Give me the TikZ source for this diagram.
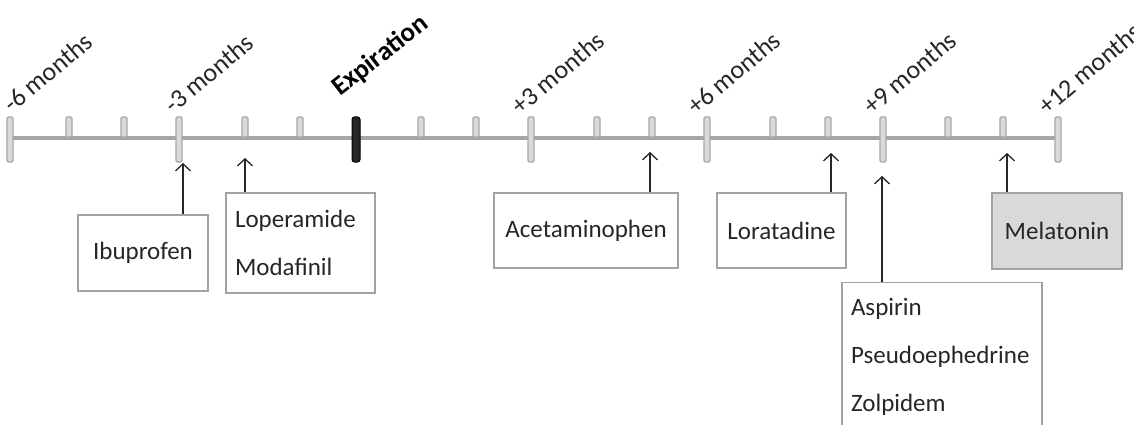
\documentclass[tikz,border=0pt]{standalone}
\usepackage{fontspec}
\setmainfont{Carlito}
\usetikzlibrary{arrows.meta}

\definecolor{axisgray}{HTML}{A6A6A6}
\definecolor{tickfill}{HTML}{DADADA}
\definecolor{tickdraw}{HTML}{A8A8A8}
\definecolor{boxdraw}{HTML}{A3A3A3}
\definecolor{boxfill}{HTML}{D9D9D9}
\definecolor{ink}{HTML}{262626}

\begin{document}
\begin{tikzpicture}[x=1pt,y=-1pt,
  minortick/.style={draw=tickdraw, fill=tickfill, line width=1.2pt, rounded corners=1.2pt,
    minimum width=6pt, minimum height=20pt, inner sep=0pt},
  majortick/.style={minortick, minimum height=45pt},
  expmark/.style={draw=black, fill=black!85, line width=1pt, rounded corners=2.5pt,
    minimum width=8pt, minimum height=45pt, inner sep=0pt},
  monthlbl/.style={font=\fontsize{26}{30}\selectfont, text=ink, rotate=40,
    anchor=base west, inner sep=0pt},
  explbl/.style={font=\fontsize{27}{30}\selectfont\bfseries, text=black, rotate=38,
    anchor=base west, inner sep=0pt},
  drugbox/.style={draw=boxdraw, line width=1.3pt, fill=white, text=ink,
    font=\fontsize{25}{48}\selectfont, inner sep=0pt},
  listbox/.style={drugbox, align=left, inner xsep=9pt},
  ptr/.style={draw=ink, line width=1.3pt, -{Straight Barb[length=7pt,width=15pt,line width=1.3pt]}}
]
\useasboundingbox (0,0) rectangle (1134,425);

% axis
\coordinate (axL) at (10,138);
\coordinate (axR) at (1058,138);
\draw[axisgray, line width=3.6pt] (axL) -- (axR);

% major ticks every three months
\node[majortick] (m6)  at (10,139.5) {};
\node[majortick] (m3)  at (179,139.5) {};
\node[majortick] (p3)  at (531,139.5) {};
\node[majortick] (p6)  at (707,139.5) {};
\node[majortick] (p9)  at (883,139.5) {};
\node[majortick] (p12) at (1058,139.5) {};

% minor ticks, one per month
\foreach \x [count=\i] in {69,124,245,300,421,476,597,652,773,828,948,1003}
  \node[minortick] (n\i) at (\x,127) {};

% expiration mark
\node[expmark] (exp) at (356,139.5) {};

% month labels
\node[monthlbl] (lm6)  at (12,114)   {-6 months};
\node[monthlbl] (lm3)  at (173,115)  {-3 months};
\node[monthlbl] (lp3)  at (520,116)  {+3 months};
\node[monthlbl] (lp6)  at (696,116)  {+6 months};
\node[monthlbl] (lp9)  at (872,116)  {+9 months};
\node[monthlbl] (lp12) at (1047,116) {+12 months};
\node[explbl]   (lexp) at (340,97)   {Expiration};

% drug boxes
\node[drugbox, minimum width=130pt, minimum height=76pt] (ibu) at (143,253) {Ibuprofen};
\node[listbox, text width=131pt, minimum height=100pt] (lop) at (300.5,243)
  {Loperamide\\Modafinil};
\node[drugbox, minimum width=184pt, minimum height=75pt] (acet) at (586,230.5) {Acetaminophen};
\node[drugbox, minimum width=129pt, minimum height=75pt] (lora) at (781.5,230.5) {Loratadine};
\node[listbox, text width=182pt, minimum height=148pt, anchor=north] (asp) at (942,282)
  {Aspirin\\Pseudoephedrine\\Zolpidem};
\node[drugbox, fill=boxfill, minimum width=130pt, minimum height=76pt] (mela) at (1057,231) {Melatonin};

% arrow tips
\coordinate (tibu)  at (183,163);
\coordinate (tlop)  at (245,158);
\coordinate (tacet) at (650,152);
\coordinate (tlora) at (831,153);
\coordinate (tasp)  at (882,176);
\coordinate (tmela) at (1007,153);

\draw[ptr] (ibu.north -| tibu) -- (tibu);
\draw[ptr] (lop.north -| tlop) -- (tlop);
\draw[ptr] (acet.north -| tacet) -- (tacet);
\draw[ptr] (lora.north -| tlora) -- (tlora);
\draw[ptr] (asp.north -| tasp) -- (tasp);
\draw[ptr] (mela.north -| tmela) -- (tmela);
\end{tikzpicture}
\end{document}
